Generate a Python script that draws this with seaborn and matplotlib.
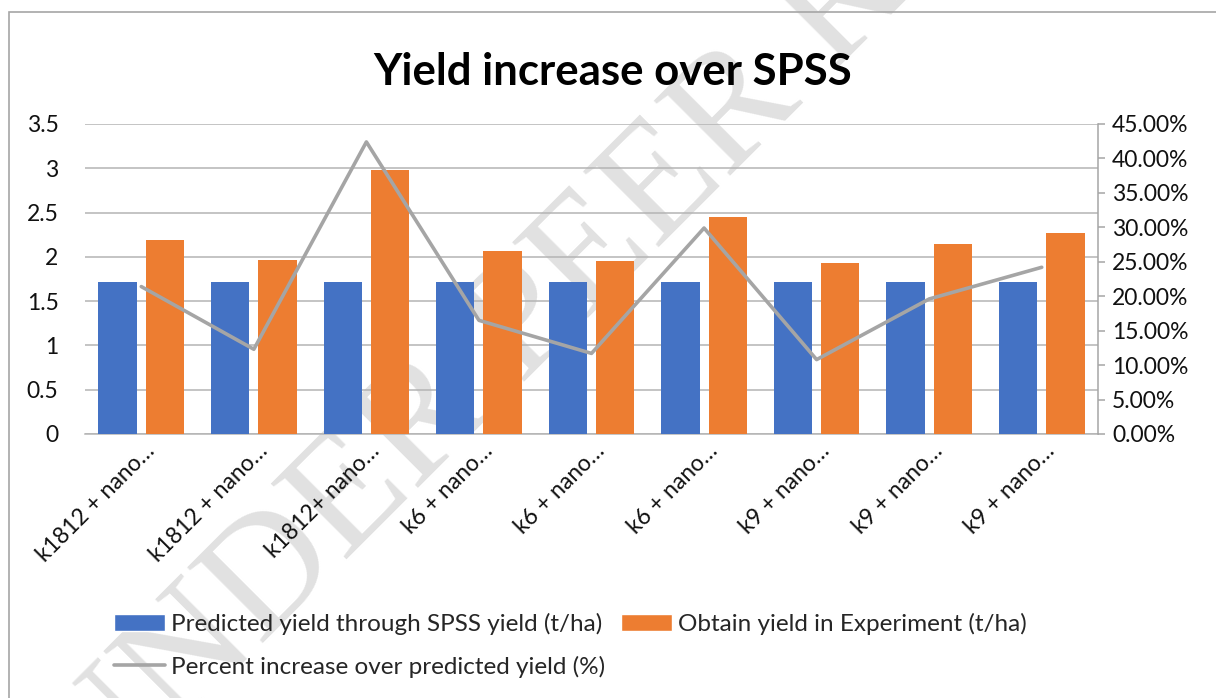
"""Yield increase over SPSS: predicted vs obtained yield with percent increase line."""

import matplotlib.pyplot as plt
import pandas as pd
import seaborn as sns
from matplotlib.lines import Line2D
from matplotlib.patches import Patch, Rectangle
from matplotlib.ticker import FuncFormatter, MultipleLocator
from matplotlib.transforms import ScaledTranslation

treatments = [
    "k1812 + nano…", "k1812 + nano…", "k1812+ nano…",
    "k6 + nano…", "k6 + nano…", "k6 + nano…",
    "k9 + nano…", "k9 + nano…", "k9 + nano…",
]
predicted = [1.72, 1.72, 1.72, 1.72, 1.72, 1.72, 1.72, 1.72, 1.72]
obtained = [2.19, 1.97, 2.98, 2.07, 1.95, 2.45, 1.93, 2.15, 2.27]
percent = [21.4, 12.3, 42.4, 16.5, 11.7, 29.9, 10.8, 19.6, 24.2]

series_names = [
    "Predicted yield through SPSS yield (t/ha)",
    "Obtain yield in Experiment (t/ha)",
    "Percent increase over predicted yield (%)",
]
colors = ["#4472C4", "#ED7D31", "#A5A5A5"]

W, H = 1216, 698
TICK_FS = 16.5

sns.set_style("white")
plt.rcParams["font.family"] = ["Lato", "DejaVu Sans"]

idx = list(range(len(treatments)))
bars = pd.DataFrame({
    "pos": idx * 2,
    "yield": predicted + obtained,
    "series": [series_names[0]] * len(idx) + [series_names[1]] * len(idx),
})
line = pd.DataFrame({"pos": idx, "pct": [p / 100 for p in percent]})

fig = plt.figure(figsize=(W / 100, H / 100), dpi=100)
fig.patch.set_facecolor("white")

# faint watermark behind the chart
fig.text(660 / W, 1 - 190 / H, "UNDER PEER REVIEW", rotation=45,
         ha="center", va="center", fontsize=118, color="#e1e1e1",
         family=["Liberation Serif", "DejaVu Serif"], zorder=-5)

# chart frame (only left and top edges are visible)
fig.add_artist(Rectangle((9 / W, -0.2), 1.2, 1.2 - 12 / H, transform=fig.transFigure,
                         fill=False, edgecolor="#a6a6a6", lw=1.2))

ax = fig.add_axes([85 / W, 1 - 434 / H, (1098 - 85) / W, (434 - 124) / H])
ax.patch.set_alpha(0)

sns.barplot(data=bars, x="pos", y="yield", hue="series", palette=colors[:2],
            width=0.84, gap=0.19, saturation=1, legend=False, linewidth=0,
            edgecolor="none", ax=ax, zorder=3)

ax.set_ylim(0, 3.5)
ax.set_xlim(-0.5, len(idx) - 0.5)
ax.yaxis.set_major_locator(MultipleLocator(0.5))
ax.yaxis.set_major_formatter(FuncFormatter(lambda v, _: f"{v:g}"))
ax.grid(axis="y", color="#b4b4b4", lw=1.1, zorder=0)
ax.set_axisbelow(True)
for side in ["left", "right", "top"]:
    ax.spines[side].set_visible(False)
ax.spines["bottom"].set_color("#b4b4b4")
ax.spines["bottom"].set_linewidth(1.1)
ax.set_xlabel("")
ax.set_ylabel("")
ax.tick_params(axis="y", length=0, pad=19, labelsize=TICK_FS, labelcolor="#111111")
ax.tick_params(axis="x", length=0, pad=10, labelsize=TICK_FS, labelcolor="#111111")
ax.set_xticks(idx)
ax.set_xticklabels(treatments, rotation=45, ha="right", va="center",
                   rotation_mode="anchor")
shift = ScaledTranslation(10 / 100, 0, fig.dpi_scale_trans)
for lab in ax.get_xticklabels():
    lab.set_transform(lab.get_transform() + shift)

ax2 = ax.twinx()
sns.lineplot(data=line, x="pos", y="pct", color=colors[2], lw=2.6, ax=ax2)
ax2.set_ylim(0, 0.45)
ax2.yaxis.set_major_locator(MultipleLocator(0.05))
ax2.yaxis.set_major_formatter(FuncFormatter(lambda v, _: f"{v * 100:.2f}%"))
for side in ["left", "top", "bottom"]:
    ax2.spines[side].set_visible(False)
ax2.spines["right"].set_color("#a6a6a6")
ax2.spines["right"].set_linewidth(1.1)
ax2.tick_params(axis="y", length=5, width=1.1, color="#a6a6a6", pad=5,
                labelsize=TICK_FS, labelcolor="#111111")
ax2.set_xlabel("")
ax2.set_ylabel("")

fig.text(613 / W, 1 - 85 / H, "Yield increase over SPSS", ha="center",
         va="baseline", fontsize=31.5, fontweight="bold", color="#000000")

handles = [
    Patch(facecolor=colors[0], label=series_names[0]),
    Line2D([], [], color=colors[2], lw=2.6, label=series_names[2]),
    Patch(facecolor=colors[1], label=series_names[1]),
]
fig.legend(handles=handles, ncol=2, loc="upper left",
           bbox_to_anchor=(114 / W, 1 - 613 / H), frameon=False, fontsize=17.5,
           handlelength=2.1, handleheight=0.66, handletextpad=0.25,
           columnspacing=0.66, labelspacing=0.85, borderpad=0, borderaxespad=0)

fig.savefig("out.png", dpi=100)
